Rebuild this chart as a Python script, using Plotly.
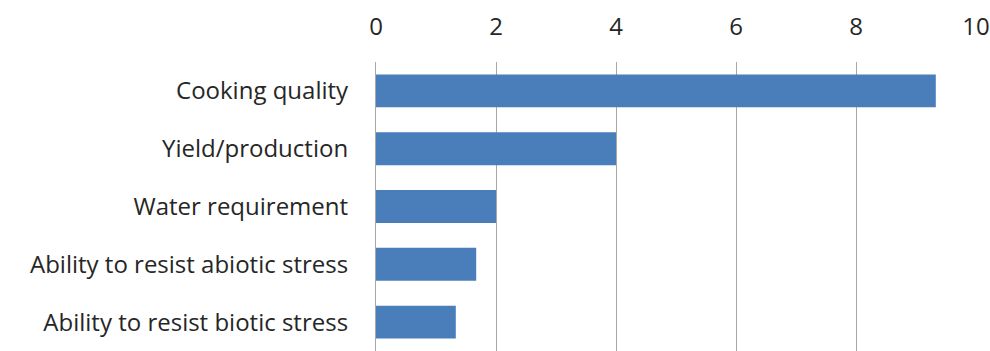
import plotly.graph_objects as go

# Traits ranked by importance score
categories = [
    "Cooking quality",
    "Yield/production",
    "Water requirement",
    "Ability to resist abiotic stress",
    "Ability to resist biotic stress",
]
scores = [9.33, 4.0, 2.0, 1.67, 1.33]
tick_values = [0, 2, 4, 6, 8, 10]
tick_labels = ["0", "2", "4", "6", "8", "10"]

font_family = "'Open Sans', Lato, sans-serif"
text_color = "#262626"
font_size = 24

fig = go.Figure(
    go.Bar(
        x=scores,
        y=categories,
        orientation="h",
        marker=dict(color="#4a7ebb", line=dict(width=0)),
        hoverinfo="x+y",
    )
)

fig.update_layout(
    width=990,
    height=351,
    margin=dict(l=376, r=14, t=62, b=0),
    paper_bgcolor="white",
    plot_bgcolor="white",
    bargap=0.43,
    showlegend=False,
    font=dict(family=font_family, size=font_size, color=text_color),
)

fig.update_xaxes(
    side="top",
    range=[0, 10],
    tickvals=tick_values,
    ticktext=tick_labels,
    showgrid=True,
    gridcolor="#a6a6a6",
    gridwidth=1.2,
    zeroline=False,
    showline=False,
    ticks="",
    ticklabelstandoff=21,
    tickfont=dict(size=font_size, color=text_color),
)

fig.update_yaxes(
    autorange="reversed",
    showgrid=False,
    zeroline=False,
    showline=True,
    linecolor="#a6a6a6",
    linewidth=1.2,
    ticks="",
    ticklabelstandoff=22,
    tickfont=dict(size=font_size, color=text_color),
)

fig.write_html("out.html")
